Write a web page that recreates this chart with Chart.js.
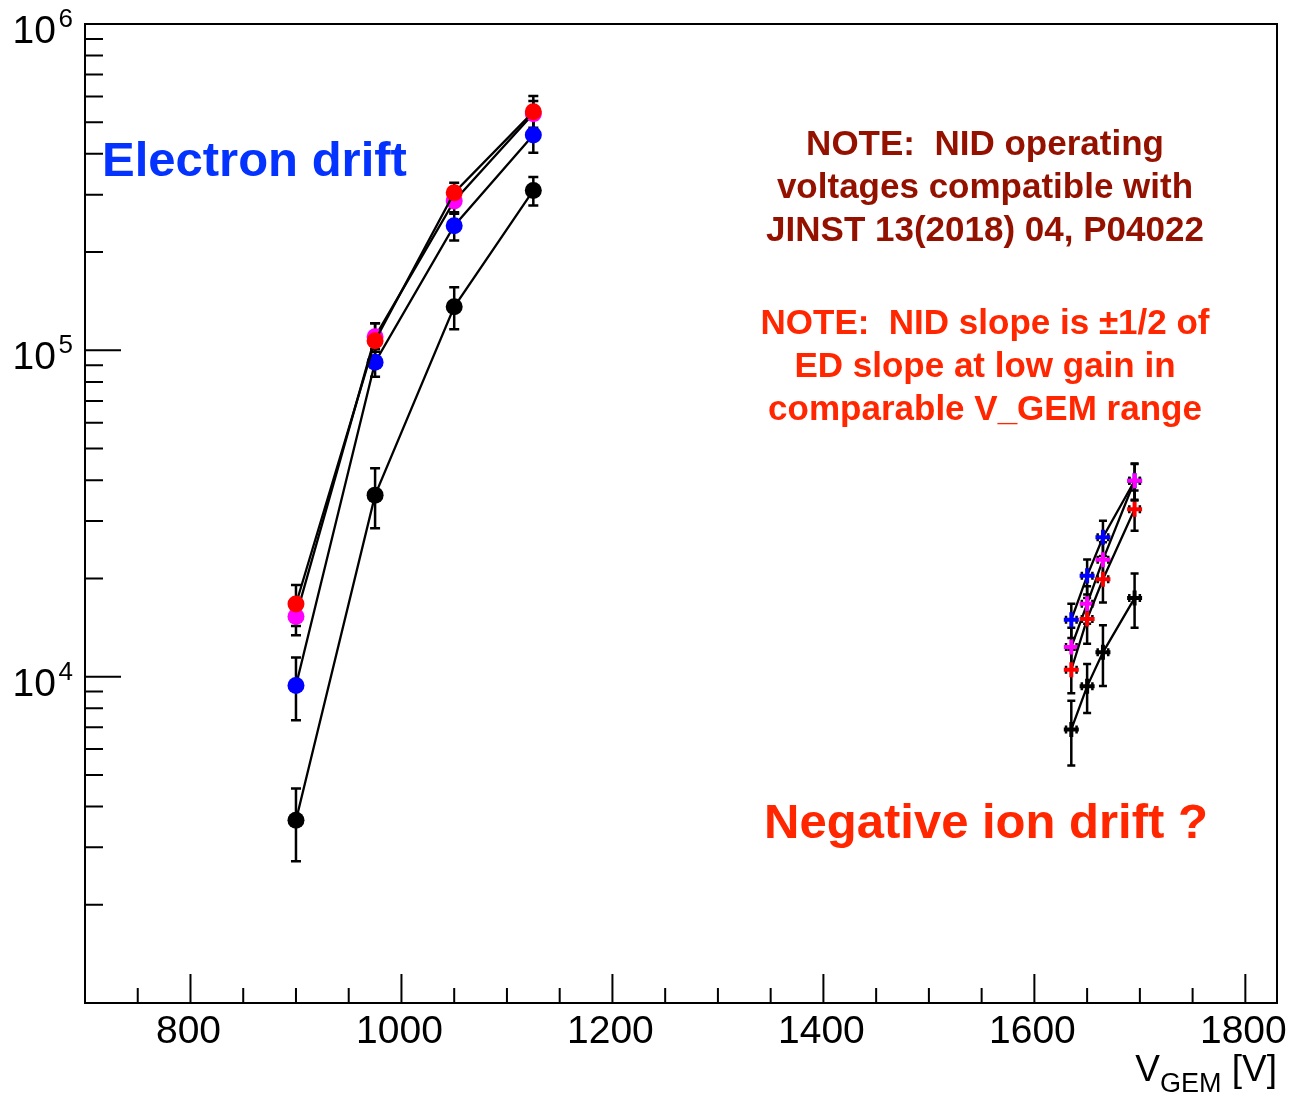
<!DOCTYPE html>
<html><head><meta charset="utf-8">
<script src="https://cdn.jsdelivr.net/npm/chart.js@4/dist/chart.umd.min.js"></script>
<style>html,body{margin:0;padding:0;background:#fff;}canvas{display:block;}</style>
</head><body>
<canvas id="c" width="1294" height="1096" style="width:1294px;height:1096px"></canvas>
<script>
// ---------- data ----------
const edVoltage = [900, 975, 1050, 1125];
const edBlack = [3630, 36000, 136000, 309000];
const edBlackErr = [910, 7500, 20000, 31000];
const edBlue = [9400, 92000, 241000, 457000];
const edBlueErr = [2050, 9000, 24000, 54000];
const edMagenta = [15300, 110000, 287000, 531000];
const edMagentaErr = [1900, 11000, 25000, 50000];
const edRed = [16700, 107000, 304000, 538000];
const edRedErr = [2400, 14000, 22000, 64000];

const nidVoltage = [1635, 1650, 1665, 1695];
const nidVoltageErr = [5, 5, 5, 5];
const nidBlack = [6890, 9340, 11870, 17410];
const nidBlackErr = [1550, 1600, 2500, 3300];
const nidBlue = [14940, 20370, 26740, 39840];
const nidBlueErr = [1800, 2500, 3300, 5200];
const nidMagenta = [12330, 16720, 22800, 39840];
const nidMagentaErr = [1800, 2200, 3000, 5000];
const nidRed = [10500, 15010, 19890, 32580];
const nidRedErr = [1600, 2400, 3000, 4600];

const xMajorTicks = [800, 1000, 1200, 1400, 1600, 1800];
const xMinorTicks = [750, 850, 900, 950, 1050, 1100, 1150, 1250, 1300, 1350, 1450, 1500, 1550, 1650, 1700, 1750];
const yMajorTicks = [1e4, 1e5, 1e6];
const yMajorExponents = ['4', '5', '6'];
const yMinorTicks = [2e3,3e3,4e3,5e3,6e3,7e3,8e3,9e3,2e4,3e4,4e4,5e4,6e4,7e4,8e4,9e4,2e5,3e5,4e5,5e5,6e5,7e5,8e5,9e5];
const xTitleMain = 'V', xTitleSub = 'GEM', xTitleUnit = ' [V]';

const labelElectron = 'Electron drift';
const note1 = ['NOTE:  NID operating', 'voltages compatible with', 'JINST 13(2018) 04, P04022'];
const note2 = ['NOTE:  NID slope is \u00b11/2 of', 'ED slope at low gain in', 'comparable V_GEM range'];
const labelNegative = 'Negative ion drift ?';

// ---------- build ----------
const FONT = '"Liberation Sans", Arial, Helvetica, sans-serif';
function pts(xs, ys) { return xs.map((x, i) => ({x: x, y: ys[i]})); }
function edSet(vals, errs, col) {
  return {data: pts(edVoltage, vals), yErr: errs, showLine: true, borderColor: '#000', borderWidth: 2.3,
    pointStyle: 'circle', pointRadius: 8.5, pointBackgroundColor: col, pointBorderColor: col, pointBorderWidth: 0, capHalf: 5};
}
function nidSet(vals, errs, col) {
  return {data: pts(nidVoltage, vals), yErr: errs, xErr: nidVoltageErr, showLine: true, borderColor: '#000', borderWidth: 2.3,
    pointStyle: 'cross', pointRadius: 7.5, pointBackgroundColor: col, pointBorderColor: col, pointBorderWidth: 4, capHalf: 4};
}
const datasets = [
  edSet(edRed, edRedErr, '#ff0000'),
  edSet(edMagenta, edMagentaErr, '#ff00ff'),
  edSet(edBlue, edBlueErr, '#0000ff'),
  edSet(edBlack, edBlackErr, '#000000'),
  nidSet(nidRed, nidRedErr, '#ff0000'),
  nidSet(nidMagenta, nidMagentaErr, '#ff00ff'),
  nidSet(nidBlue, nidBlueErr, '#0000ff'),
  nidSet(nidBlack, nidBlackErr, '#000000')
];

const errorBars = {
  id: 'errorBars',
  beforeDatasetsDraw(chart) {
    const ctx = chart.ctx, xs = chart.scales.x, ys = chart.scales.y;
    ctx.save();
    ctx.strokeStyle = '#000';
    ctx.lineWidth = 2.5;
    chart.data.datasets.forEach(ds => {
      ds.data.forEach((p, i) => {
        const px = xs.getPixelForValue(p.x);
        const py = ys.getPixelForValue(p.y);
        const top = ys.getPixelForValue(p.y + ds.yErr[i]);
        const bot = ys.getPixelForValue(p.y - ds.yErr[i]);
        const c = ds.capHalf;
        ctx.beginPath();
        ctx.moveTo(px, top); ctx.lineTo(px, bot);
        ctx.moveTo(px - c, top); ctx.lineTo(px + c, top);
        ctx.moveTo(px - c, bot); ctx.lineTo(px + c, bot);
        if (ds.xErr) {
          const l = xs.getPixelForValue(p.x - ds.xErr[i]);
          const r = xs.getPixelForValue(p.x + ds.xErr[i]);
          ctx.moveTo(l, py); ctx.lineTo(r, py);
          ctx.moveTo(l, py - c); ctx.lineTo(l, py + c);
          ctx.moveTo(r, py - c); ctx.lineTo(r, py + c);
        }
        ctx.stroke();
      });
    });
    ctx.restore();
  }
};

const frameAxes = {
  id: 'frameAxes',
  afterDraw(chart) {
    const ctx = chart.ctx, a = chart.chartArea, xs = chart.scales.x, ys = chart.scales.y;
    ctx.save();
    ctx.strokeStyle = '#000';
    ctx.lineWidth = 2;
    ctx.strokeRect(a.left, a.top, a.right - a.left, a.bottom - a.top);
    ctx.beginPath();
    xMajorTicks.forEach(v => { const x = xs.getPixelForValue(v); ctx.moveTo(x, a.bottom); ctx.lineTo(x, a.bottom - 29); });
    xMinorTicks.forEach(v => { const x = xs.getPixelForValue(v); ctx.moveTo(x, a.bottom); ctx.lineTo(x, a.bottom - 15); });
    yMajorTicks.forEach(v => { const y = ys.getPixelForValue(v); ctx.moveTo(a.left, y); ctx.lineTo(a.left + 36, y); });
    yMinorTicks.forEach(v => { const y = ys.getPixelForValue(v); ctx.moveTo(a.left, y); ctx.lineTo(a.left + 18, y); });
    ctx.stroke();
    // x tick labels
    ctx.fillStyle = '#000';
    ctx.font = '39px ' + FONT;
    ctx.textAlign = 'center';
    ctx.textBaseline = 'alphabetic';
    xMajorTicks.forEach(v => ctx.fillText(String(v), xs.getPixelForValue(v) - 2, a.bottom + 40));
    // y tick labels 10^n
    yMajorTicks.forEach((v, i) => {
      const y = ys.getPixelForValue(v);
      ctx.textAlign = 'right';
      ctx.font = '26px ' + FONT;
      ctx.fillText(yMajorExponents[i], 73, y + 3);
      ctx.font = '39px ' + FONT;
      ctx.fillText('10', 56, y + 19);
    });
    // x title
    ctx.textAlign = 'right';
    ctx.font = '37px ' + FONT;
    let xr = a.right;
    ctx.fillText(xTitleUnit, xr, 1081);
    xr -= ctx.measureText(xTitleUnit).width;
    ctx.font = '27px ' + FONT;
    ctx.fillText(xTitleSub, xr, 1092);
    xr -= ctx.measureText(xTitleSub).width;
    ctx.font = '37px ' + FONT;
    ctx.fillText(xTitleMain, xr, 1081);
    // annotations
    ctx.font = 'bold 49px ' + FONT;
    ctx.fillStyle = '#0433ff';
    ctx.textAlign = 'left';
    ctx.fillText(labelElectron, 102, 176);
    ctx.textAlign = 'center';
    ctx.font = 'bold 35px ' + FONT;
    ctx.fillStyle = '#941100';
    note1.forEach((t, i) => ctx.fillText(t, 985, 155 + i * 43));
    ctx.fillStyle = '#ff2600';
    note2.forEach((t, i) => ctx.fillText(t, 985, 334 + i * 43));
    ctx.font = 'bold 49px ' + FONT;
    ctx.fillText(labelNegative, 986, 838);
    ctx.restore();
  }
};

new Chart(document.getElementById('c'), {
  type: 'scatter',
  data: {datasets: datasets},
  options: {
    responsive: false,
    animation: false,
    devicePixelRatio: 1,
    layout: {padding: {left: 85, right: 17, top: 24, bottom: 93}},
    plugins: {legend: {display: false}, tooltip: {enabled: false}},
    elements: {line: {tension: 0}},
    scales: {
      x: {type: 'linear', min: 700, max: 1830, display: false},
      y: {type: 'logarithmic', min: 1000, max: 1e6, display: false}
    }
  },
  plugins: [errorBars, frameAxes]
});
</script>
</body></html>
